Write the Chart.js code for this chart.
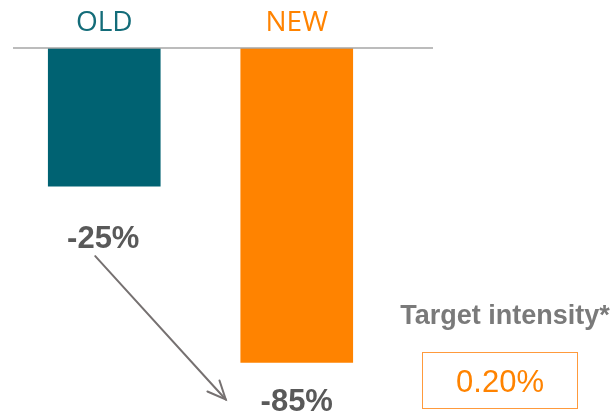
<!DOCTYPE html>
<html>
<head>
<meta charset="utf-8">
<script src="https://cdn.jsdelivr.net/npm/chart.js@4.4.1/dist/chart.umd.min.js"></script>
<style>
  html, body { margin: 0; padding: 0; background: #ffffff; }
  #wrap { width: 616px; height: 411px; position: relative; }
</style>
</head>
<body>
<div id="wrap"><canvas id="c" width="616" height="411"></canvas></div>
<script>
// ---- data ----
const categories = ['OLD', 'NEW'];
const changeValues = [-25, -85];            // % change shown under each bar
const targetLabel = 'Target intensity*';
const targetValue = '0.20%';

// ---- styles ----
const barColors = ['#006272', '#FF8300'];
const tickColors = ['#136c79', '#FF8300'];
const valueLabelColor = '#595959';
const arrowColor = '#767171';
const baseValue = 22;                       // where bars hang from (reference graphic is not to scale)

const valueLabels = changeValues.map(v => v + '%');

const annotations = {
  id: 'annotations',
  afterDatasetsDraw(chart) {
    const ctx = chart.ctx;
    const y = chart.scales.y;
    const meta = chart.getDatasetMeta(0);
    const baseY = y.getPixelForValue(baseValue);

    ctx.save();
    // baseline
    ctx.strokeStyle = '#a6a6a6';
    ctx.lineWidth = 1.5;
    ctx.beginPath();
    ctx.moveTo(13, baseY);
    ctx.lineTo(433, baseY);
    ctx.stroke();

    // value labels under the bars
    const offsets = [62, 48];
    ctx.fillStyle = valueLabelColor;
    ctx.font = 'bold 31px "Liberation Sans", Arial, sans-serif';
    ctx.textAlign = 'center';
    ctx.textBaseline = 'alphabetic';
    const pos = [];
    meta.data.forEach((bar, i) => {
      const ly = bar.y + offsets[i];
      const lx = bar.x + (i === 0 ? -1 : 0);
      ctx.fillText(valueLabels[i], lx, ly);
      pos.push({ x: lx, y: ly });
    });

    // arrow from first label to second
    const x1 = pos[0].x - 8, y1 = pos[0].y + 8;
    const x2 = pos[1].x - 71, y2 = pos[1].y - 11;
    ctx.strokeStyle = arrowColor;
    ctx.lineWidth = 2;
    ctx.lineCap = 'round';
    ctx.beginPath();
    ctx.moveTo(x1, y1);
    ctx.lineTo(x2, y2);
    ctx.stroke();
    const ang = Math.atan2(y2 - y1, x2 - x1);
    const hl = 20, ha = 0.42;
    ctx.beginPath();
    ctx.moveTo(x2 - hl * Math.cos(ang - ha), y2 - hl * Math.sin(ang - ha));
    ctx.lineTo(x2, y2);
    ctx.lineTo(x2 - hl * Math.cos(ang + ha), y2 - hl * Math.sin(ang + ha));
    ctx.stroke();

    // target intensity block
    ctx.fillStyle = '#7a7a7a';
    ctx.font = 'bold 27px "Liberation Sans", Arial, sans-serif';
    ctx.textAlign = 'center';
    ctx.fillText(targetLabel, 505, 324);

    ctx.strokeStyle = '#FF9A3C';
    ctx.lineWidth = 1;
    ctx.strokeRect(422.5, 352.5, 155, 56);
    ctx.fillStyle = '#FF8300';
    ctx.font = '31px "Liberation Sans", Arial, sans-serif';
    ctx.fillText(targetValue, 500, 392);
    ctx.restore();
  }
};

new Chart(document.getElementById('c'), {
  type: 'bar',
  data: {
    labels: categories,
    datasets: [{
      data: changeValues,
      base: baseValue,
      backgroundColor: barColors,
      borderWidth: 0,
      barThickness: 112
    }]
  },
  options: {
    responsive: false,
    animation: false,
    events: [],
    layout: { padding: { left: 8, right: 223, top: -1.6, bottom: 0 } },
    plugins: { legend: { display: false }, tooltip: { enabled: false } },
    scales: {
      x: {
        position: 'top',
        grid: { display: false, drawTicks: false },
        border: { display: false },
        ticks: {
          color: tickColors,
          padding: 8,
          font: { family: '"Open Sans", sans-serif', size: 28, weight: 'normal' }
        }
      },
      y: {
        display: false,
        min: -101.5,
        max: baseValue
      }
    }
  },
  plugins: [annotations]
});
</script>
</body>
</html>
